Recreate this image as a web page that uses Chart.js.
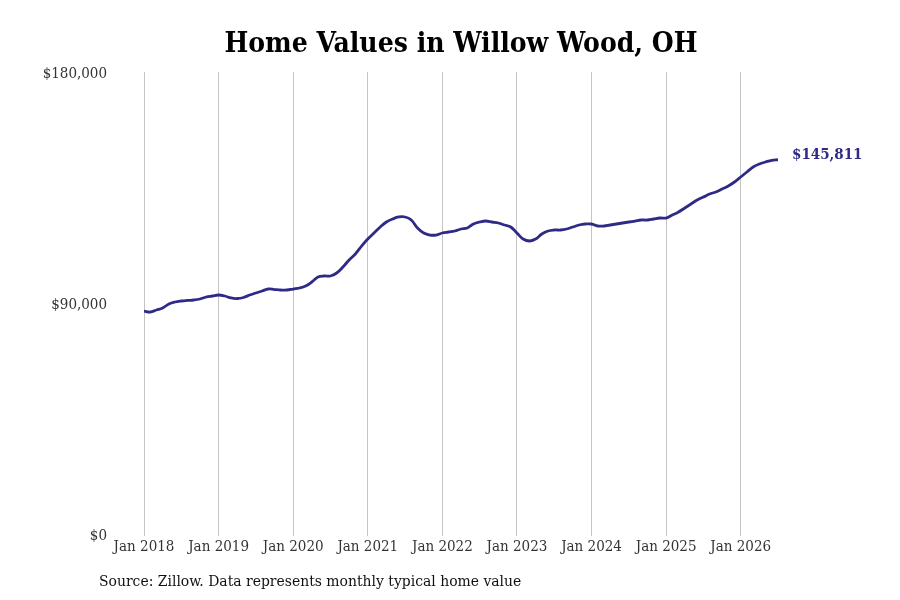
<!DOCTYPE html>
<html>
<head>
<meta charset="utf-8">
<script src="https://cdn.jsdelivr.net/npm/chart.js@4.4.1/dist/chart.umd.min.js"></script>
<style>
    html, body { margin: 0; padding: 0; background: #fff; }
    #wrap { width: 900px; height: 600px; position: relative; }
</style>
</head>
<body>
<div id="wrap"><canvas id="home-chart"></canvas></div>
<script>
const chartTitle = "Home Values in Willow Wood, OH";
const sourceNote = "Source: Zillow. Data represents monthly typical home value";

// x tick labels, one per year (every 12 months)
const yearLabels = ["Jan 2018", "Jan 2019", "Jan 2020", "Jan 2021", "Jan 2022", "Jan 2023", "Jan 2024", "Jan 2025", "Jan 2026"];
const yTicks = [0, 90000, 180000];

// monthly typical home value, starting Jan 2018
const homeValues = [
    86880, 86490, 87270, 88050, 89610, 90390, 90780, 91000, 91170, 91560, 92340, 92730,
    93110, 92730, 91950, 91750, 92150, 93110, 93890, 94670, 95450, 95250, 95060, 95060,
    95450, 95840, 96620, 98180, 100130, 100520, 100520, 101690, 104020, 106750, 109090, 112200,
    114930, 117270, 119610, 121560, 122730, 123510, 123510, 122330, 119220, 117270, 116490, 116490,
    117270, 117660, 118050, 118830, 119220, 120780, 121560, 121940, 121560, 121170, 120390, 119610,
    117270, 114930, 114150, 114930, 116880, 118050, 118440, 118440, 118830, 119610, 120390, 120780,
    120780, 120000, 120000, 120390, 120780, 121170, 121560, 121940, 122330, 122330, 122730, 123110,
    123110, 124280, 125450, 127010, 128570, 130130, 131300, 132460, 133240, 134410, 135580, 137140,
    139090, 141040, 142980, 144150, 144930, 145600, 145811
];
const months = homeValues.map((v, i) => i);

const lineColor = "#2e2a86";
const serif = "'DejaVu Serif Condensed', 'DejaVu Serif', serif";

const money = v => "$" + v.toLocaleString("en-US");

// title, source line and end label
const textPlugin = {
    id: "texts",
    afterDraw(chart) {
        const ctx = chart.ctx;
        const area = chart.chartArea;
        ctx.save();
        ctx.fillStyle = "#000";
        ctx.font = "bold 28px " + serif;
        ctx.textAlign = "center";
        ctx.textBaseline = "middle";
        ctx.fillText(chartTitle, (area.left + area.right) / 2, 45);

        ctx.font = "15.5px " + serif;
        ctx.textAlign = "left";
        ctx.fillStyle = "#111";
        ctx.fillText(sourceNote, 99, 582);

        const meta = chart.getDatasetMeta(0);
        const last = meta.data[meta.data.length - 1];
        ctx.font = "bold 15px " + serif;
        ctx.fillStyle = lineColor;
        ctx.fillText(money(homeValues[homeValues.length - 1]), last.x + 14, last.y - 5);
        ctx.restore();
    }
};

new Chart(document.getElementById("home-chart"), {
    type: "line",
    data: {
        datasets: [{
            data: months.map((m, i) => ({ x: m, y: homeValues[i] })),
            borderColor: lineColor,
            borderWidth: 2.8,
            pointRadius: 0,
            tension: 0.4,
            fill: false
        }]
    },
    options: {
        responsive: true,
        maintainAspectRatio: false,
        animation: false,
        layout: { padding: { top: 72, right: 122, bottom: 36, left: 0 } },
        plugins: {
            legend: { display: false },
            tooltip: { enabled: false }
        },
        scales: {
            x: {
                type: "linear",
                min: 0,
                max: months.length - 1,
                afterBuildTicks: scale => {
                    scale.ticks = yearLabels.map((l, i) => ({ value: i * 12 }));
                },
                afterFit: scale => { scale.height = 30; },
                grid: { color: "#c4c4c4", lineWidth: 1, drawTicks: true, tickLength: 2 },
                border: { display: false },
                ticks: {
                    color: "#333",
                    font: { family: serif, size: 15 },
                    padding: 2,
                    maxRotation: 0,
                    autoSkip: false,
                    callback: v => yearLabels[v / 12]
                }
            },
            y: {
                min: 0,
                max: 180000,
                afterBuildTicks: scale => {
                    scale.ticks = yTicks.map(v => ({ value: v }));
                },
                afterFit: scale => { scale.width = 144; },
                grid: { display: false, drawTicks: false },
                border: { display: false },
                ticks: {
                    color: "#333",
                    font: { family: serif, size: 15 },
                    padding: 37,
                    labelOffset: 2,
                    callback: v => money(v)
                }
            }
        }
    },
    plugins: [textPlugin]
});
</script>
</body>
</html>
